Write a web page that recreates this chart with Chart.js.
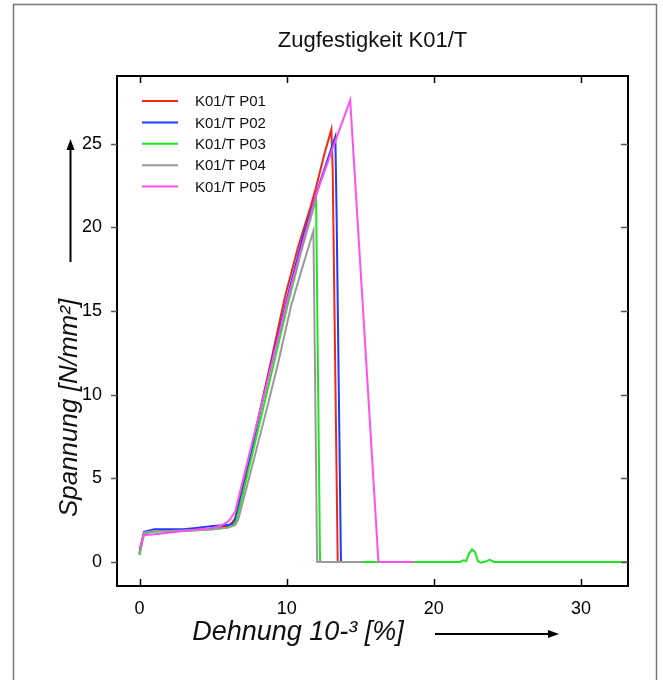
<!DOCTYPE html>
<html>
<head>
<meta charset="utf-8">
<script src="https://cdn.jsdelivr.net/npm/chart.js@4/dist/chart.umd.min.js"></script>
<style>
  html, body { margin: 0; padding: 0; background: #fff; }
</style>
</head>
<body>
<canvas id="myChart" width="663" height="680"></canvas>
<script>
const chartTitle = "Zugfestigkeit K01/T";
const xTitle = "Dehnung 10-³ [%]";
const yTitle = "Spannung [N/mm²]";

const seriesLabels = ["K01/T P01", "K01/T P02", "K01/T P03", "K01/T P04", "K01/T P05"];
const seriesColors = ["#f02814", "#1e3cff", "#1ee61e", "#9a9a9a", "#ff50f0"];

const xTicks = [0, 10, 20, 30];
const yTicks = [0, 5, 10, 15, 20, 25];

// strain (x) / stress (y) per sample
const p01Strain = [0, 0.3, 1, 2, 3, 4, 5, 6, 6.3, 6.5, 7.3, 8.2, 9.0, 9.9, 10.8, 11.55, 12.0, 12.57, 13.04, 13.13, 13.47, 14.5];
const p01Stress = [0.55, 1.75, 1.85, 1.88, 1.9, 1.95, 2.0, 2.15, 2.35, 2.6, 5.6, 9.1, 12.25, 15.9, 18.9, 21.0, 22.4, 24.4, 25.85, 23.4, 0, 0];

const p02Strain = [0, 0.3, 1, 2, 3, 4, 5, 6, 6.3, 6.5, 7.3, 8.2, 9.1, 10.1, 11.1, 12.23, 13.31, 13.4, 13.69, 14.8];
const p02Stress = [0.5, 1.8, 1.95, 1.95, 1.95, 2.05, 2.15, 2.2, 2.25, 2.5, 5.3, 9.0, 12.4, 16.0, 19.4, 22.6, 25.43, 20.5, 0, 0];

const p03Strain = [0, 0.3, 1, 2, 3, 4, 5, 6, 6.4, 6.6, 7.4, 8.3, 9.2, 10.09, 11.0, 12.0, 12.27, 21.8, 22.0, 22.2, 22.4, 22.6, 22.8, 23.0, 23.2, 23.5, 23.8, 24.1, 34];
const p03Stress = [0.4, 1.7, 1.8, 1.85, 1.85, 1.9, 1.95, 2.05, 2.2, 2.5, 5.47, 8.8, 12.15, 15.45, 18.6, 21.7, 0, 0, 0.1, 0.05, 0.5, 0.75, 0.6, 0.05, -0.05, 0.02, 0.12, 0, 0];

const p04Strain = [0, 0.3, 1, 2, 3, 4, 5, 6, 6.5, 6.7, 7.5, 8.63, 9.4, 10.3, 11.0, 11.82, 12.07, 15.2];
const p04Stress = [0.5, 1.75, 1.85, 1.85, 1.88, 1.92, 1.95, 2.05, 2.2, 2.5, 5.2, 9.07, 11.8, 15.3, 17.4, 19.8, 0, 0];

const p05Strain = [0, 0.3, 1, 2, 3, 4, 5, 5.5, 6.0, 6.2, 6.5, 7.3, 8.2, 9.1, 10.05, 11.2, 12.1, 13.2, 14.32, 16.24, 18.65];
const p05Stress = [0.8, 1.6, 1.65, 1.75, 1.85, 1.92, 2.05, 2.15, 2.4, 2.6, 3.0, 5.85, 9.05, 12.25, 15.64, 19.4, 22.2, 24.9, 27.6, 0, 0];

const strains = [p01Strain, p02Strain, p03Strain, p04Strain, p05Strain];
const stresses = [p01Stress, p02Stress, p03Stress, p04Stress, p05Stress];

const toPoints = (xs, ys) => xs.map((x, i) => ({ x: x, y: ys[i] }));

const FONT = "'Liberation Sans', Arial, sans-serif";
Chart.defaults.font.family = FONT;
Chart.defaults.color = "#000";

function arrow(ctx, x1, y1, x2, y2) {
  const ang = Math.atan2(y2 - y1, x2 - x1);
  ctx.beginPath();
  ctx.moveTo(x1, y1);
  ctx.lineTo(x2 - 8 * Math.cos(ang), y2 - 8 * Math.sin(ang));
  ctx.stroke();
  ctx.beginPath();
  ctx.moveTo(x2, y2);
  ctx.lineTo(x2 - 11 * Math.cos(ang) + 4 * Math.sin(ang), y2 - 11 * Math.sin(ang) - 4 * Math.cos(ang));
  ctx.lineTo(x2 - 11 * Math.cos(ang) - 4 * Math.sin(ang), y2 - 11 * Math.sin(ang) + 4 * Math.cos(ang));
  ctx.closePath();
  ctx.fill();
}

const decorations = {
  id: "decorations",
  beforeDraw(chart) {
    const ctx = chart.ctx;
    ctx.save();
    ctx.fillStyle = "#fff";
    ctx.fillRect(0, 0, chart.width, chart.height);
    ctx.restore();
  },
  afterDraw(chart) {
    const { ctx, chartArea: a, scales } = chart;
    const sx = scales.x, sy = scales.y;
    ctx.save();

    // outer picture border
    ctx.strokeStyle = "#777";
    ctx.lineWidth = 1.5;
    ctx.beginPath();
    ctx.moveTo(13.5, 700);
    ctx.lineTo(13.5, 4.5);
    ctx.lineTo(656.5, 4.5);
    ctx.lineTo(656.5, 700);
    ctx.stroke();

    // plot frame
    ctx.strokeStyle = "#000";
    ctx.lineWidth = 2;
    ctx.strokeRect(a.left, a.top, a.right - a.left, a.bottom - a.top);

    // x ticks, inward at top and bottom
    ctx.lineWidth = 1.5;
    xTicks.forEach(v => {
      const px = Math.round(sx.getPixelForValue(v)) + 0.5;
      ctx.beginPath();
      ctx.moveTo(px, a.bottom);
      ctx.lineTo(px, a.bottom - 7);
      ctx.moveTo(px, a.top);
      ctx.lineTo(px, a.top + 7);
      ctx.stroke();
    });
    // y ticks, outward left, inward right
    ctx.strokeStyle = "#555";
    yTicks.forEach(v => {
      const py = Math.round(sy.getPixelForValue(v)) + 0.5;
      ctx.beginPath();
      ctx.moveTo(a.left, py);
      ctx.lineTo(a.left - 6, py);
      ctx.moveTo(a.right, py);
      ctx.lineTo(a.right - 7, py);
      ctx.stroke();
    });

    // title
    ctx.fillStyle = "#111";
    ctx.textAlign = "center";
    ctx.textBaseline = "middle";
    ctx.font = "22px " + FONT;
    ctx.fillText(chartTitle, (a.left + a.right) / 2, 41);

    // x axis title + arrow
    ctx.font = "italic 27px " + FONT;
    ctx.fillText(xTitle, 298, 632);
    ctx.strokeStyle = "#000";
    ctx.fillStyle = "#000";
    ctx.lineWidth = 2;
    arrow(ctx, 435, 634, 559, 634);

    // y axis title + arrow
    ctx.save();
    ctx.translate(70, 408);
    ctx.rotate(-Math.PI / 2);
    ctx.fillStyle = "#111";
    ctx.font = "italic 26px " + FONT;
    ctx.fillText(yTitle, 0, 0);
    ctx.restore();
    arrow(ctx, 70.5, 262, 70.5, 139);

    // legend inside plot
    ctx.font = "15px " + FONT;
    ctx.textAlign = "left";
    ctx.fillStyle = "#111";
    seriesLabels.forEach((lbl, i) => {
      const yy = 101 + i * 21.4;
      ctx.strokeStyle = seriesColors[i];
      ctx.lineWidth = 2;
      ctx.beginPath();
      ctx.moveTo(142, yy);
      ctx.lineTo(178, yy);
      ctx.stroke();
      ctx.fillText(lbl, 195, yy + 1);
    });

    ctx.restore();
  }
};

const chart = new Chart(document.getElementById("myChart"), {
  type: "line",
  data: {
    datasets: seriesLabels.map((lbl, i) => ({
      label: lbl,
      data: toPoints(strains[i], stresses[i]),
      borderColor: seriesColors[i],
      backgroundColor: seriesColors[i],
      borderWidth: 2,
      pointRadius: 0,
      tension: 0,
      fill: false,
      order: seriesLabels.length - i,
    })),
  },
  options: {
    responsive: false,
    animation: false,
    layout: { padding: { left: 0, right: 35, top: 76, bottom: 0 } },
    scales: {
      x: {
        type: "linear",
        min: -1.53,
        max: 33.2,
        afterBuildTicks: (s) => { s.ticks = xTicks.map(v => ({ value: v })); },
        afterFit: (s) => { s.height = 94; },
        ticks: { color: "#000", font: { size: 18 }, padding: 4, maxRotation: 0 },
        grid: { display: false },
        border: { display: false },
      },
      y: {
        type: "linear",
        min: -1.44,
        max: 29.05,
        afterBuildTicks: (s) => { s.ticks = yTicks.map(v => ({ value: v })); },
        afterFit: (s) => { s.width = 117; },
        ticks: { color: "#000", font: { size: 18 }, padding: 7 },
        grid: { display: false },
        border: { display: false },
      },
    },
    plugins: {
      legend: { display: false },
      title: { display: false },
      tooltip: { enabled: false },
    },
  },
  plugins: [decorations],
});
</script>
</body>
</html>
